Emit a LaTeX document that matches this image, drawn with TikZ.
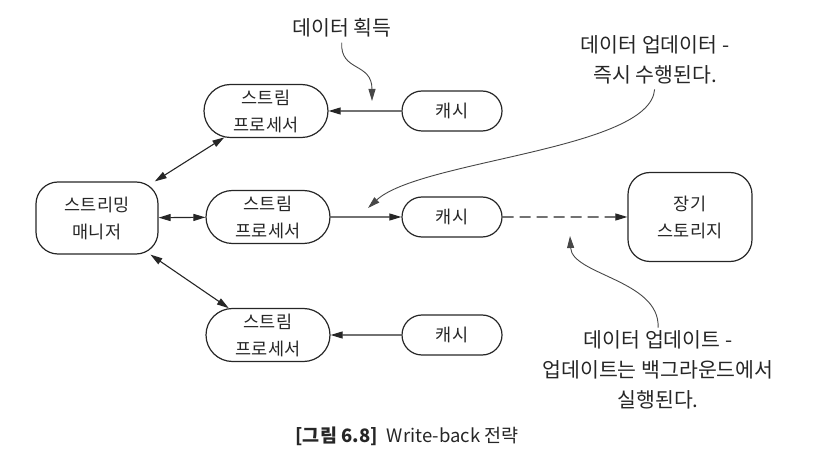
\documentclass[tikz,border=0pt]{standalone}
\usepackage{fontspec}
\setmainfont{Noto Sans CJK KR}
\usetikzlibrary{arrows.meta,shapes.misc}
\definecolor{ink}{HTML}{262626}
\begin{document}
\begin{tikzpicture}[x=1pt,y=-1pt,
  box/.style={draw=ink, line width=1.2pt, text=ink, align=center,
    font=\fontsize{17.5}{27}\selectfont, inner sep=0pt},
  pill/.style={box, rounded rectangle, minimum height=53pt, minimum width=124pt},
  cachebox/.style={box, rounded rectangle, minimum height=40pt, minimum width=100pt},
  bigbox/.style={box, rounded corners=22pt},
  lbl/.style={text=ink, align=center, font=\fontsize{20.5}{30}\selectfont, inner sep=0pt},
  tip/.style={-{Triangle[length=12pt,width=7pt]}},
  both/.style={{Triangle[length=12pt,width=7pt]}-{Triangle[length=12pt,width=7pt]}},
  conn/.style={draw=ink, line width=1.1pt},
  note/.style={draw=ink!85, line width=0.9pt}
]
\useasboundingbox (0,0) rectangle (822,470);

\node[bigbox, minimum width=122pt, minimum height=72pt] (mgr) at (97,218) {스트리밍\\매니저};
\node[pill] (sp1) at (266,111) {스트림\\프로세서};
\node[pill] (sp2) at (268,217) {스트림\\프로세서};
\node[pill] (sp3) at (268,335) {스트림\\프로세서};
\node[cachebox] (c1) at (452,111) {캐시};
\node[cachebox] (c2) at (452,217) {캐시};
\node[cachebox] (c3) at (452,335) {캐시};
\node[bigbox, minimum width=124pt, minimum height=89pt] (st) at (690,217) {장기\\스토리지};

\node[lbl] (l1) at (342,28) {데이터 획득};
\node[lbl] (l2) at (655,60) {데이터 업데이터 -\\즉시 수행된다.};
\node[lbl] (l3) at (658,370) {데이터 업데이트 -\\업데이트는 백그라운드에서\\실행된다.};
\node[text=ink, font=\fontsize{18.5}{22}\selectfont, inner sep=0pt] (cap) at (407,436)
  {\textbf{[그림 6.8]}\enspace Write-back 전략};

\draw[conn, both] (mgr) -- (sp1);
\draw[conn, both] (mgr) -- (sp2);
\draw[conn, both] (mgr) -- (sp3);
\draw[conn, tip] (c1) -- (sp1);
\draw[conn, tip] (sp2) -- (c2);
\draw[conn, tip] (c3) -- (sp3);
\draw[conn, tip, dash pattern=on 11pt off 6pt] (c2) -- (st);

\coordinate (a1) at (372,101);
\coordinate (a2) at (368,208);
\coordinate (a3) at (570,236);
\draw[note, tip, shorten <=5pt] (l1.south) .. controls (340,72) and (372,62) .. (a1);
\draw[note, tip, shorten <=5pt] (l2.south) .. controls (650,150) and (420,160) .. (a2);
\draw[note, tip, shorten <=3pt] (l3.north) .. controls (660,280) and (572,275) .. (a3);
\end{tikzpicture}
\end{document}
